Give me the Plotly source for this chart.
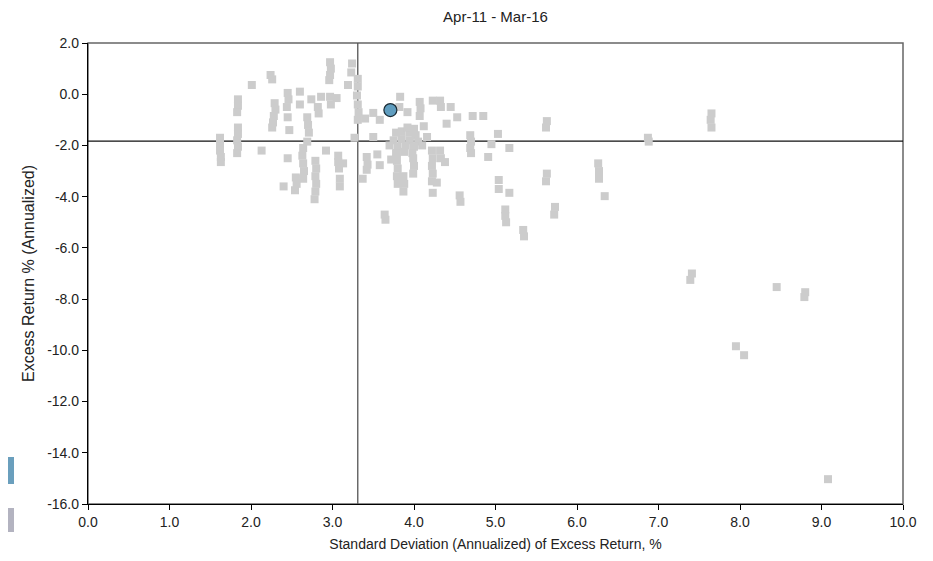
import plotly.graph_objects as go

title_text = "Apr-11 - Mar-16"
x_title = "Standard Deviation (Annualized) of Excess Return, %"
y_title = "Excess Return % (Annualized)"

x_tick_vals = [0, 1, 2, 3, 4, 5, 6, 7, 8, 9, 10]
x_tick_text = ["0.0", "1.0", "2.0", "3.0", "4.0", "5.0", "6.0", "7.0", "8.0", "9.0", "10.0"]
y_tick_vals = [2, 0, -2, -4, -6, -8, -10, -12, -14, -16]
y_tick_text = ["2.0", "0.0", "-2.0", "-4.0", "-6.0", "-8.0", "-10.0", "-12.0", "-14.0", "-16.0"]

# peer universe (std dev, excess return)
peer_sd = [
    1.62, 1.62, 1.62, 1.63, 1.63,
    1.84, 1.84, 1.83,
    1.84, 1.84, 1.83, 1.84, 1.83,
    2.01, 2.13, 2.24, 2.26,
    2.29, 2.30, 2.28, 2.27, 2.26,
    2.45, 2.46, 2.44, 2.45, 2.60, 2.45,
    2.69, 2.70, 2.71, 2.69,
    2.82, 2.83,
    2.64, 2.63, 2.64, 2.65, 2.64,
    2.79, 2.80, 2.79, 2.80, 2.79, 2.78,
    2.55, 2.56, 2.54,
    2.97, 2.98, 2.97, 2.96,
    2.97, 2.98, 3.05,
    3.07, 3.07, 3.08,
    3.09, 3.09,
    3.24, 3.23, 3.19,
    3.31, 3.31, 3.30, 3.31, 3.32, 3.31,
    3.27,
    3.42, 3.43, 3.42, 3.37,
    3.50, 3.58, 3.50, 3.58,
    3.83, 3.82,
    3.78, 3.85, 3.95, 4.02, 3.75, 3.85, 3.95, 4.05, 3.80, 3.90, 4.00, 4.10, 3.78, 3.88, 3.98, 3.92, 4.00,
    3.79, 3.79, 3.80, 3.79, 3.80,
    3.87, 3.88, 3.87,
    3.99, 4.00, 3.99,
    4.07, 4.08, 4.07,
    4.23, 4.32, 4.33,
    4.16,
    4.22, 4.23, 4.22, 4.23, 4.22,
    4.32, 4.33,
    4.28, 4.23,
    4.40, 4.45, 4.53,
    4.72, 4.85,
    4.69, 4.70, 4.69, 4.70,
    4.95, 5.03, 5.17, 4.91,
    5.04, 5.04, 5.17,
    4.56, 4.57,
    3.64, 3.65,
    5.12, 5.12, 5.13,
    5.34, 5.35,
    5.63, 5.62,
    5.63, 5.62,
    5.73, 5.72,
    6.26, 6.27, 6.27,
    6.34,
    6.87, 6.88,
    7.65, 7.64, 7.65,
    7.41, 7.39,
    8.45,
    8.80, 8.79,
    7.95, 8.05,
    9.08,
    # extra points filling the dense central cluster
    2.47, 2.60, 2.74, 2.86, 3.13, 3.40, 3.55, 3.70, 3.72, 3.92, 4.12, 4.38, 2.92, 2.40,
]
peer_ret = [
    -1.70, -1.95, -2.20, -2.45, -2.65,
    -0.20, -0.45, -0.70,
    -1.30, -1.55, -1.80, -2.05, -2.30,
    0.36, -2.20, 0.75, 0.58,
    -0.35, -0.60, -0.85, -1.10, -1.30,
    0.05, -0.20, -0.50, -0.90, 0.10, -2.50,
    -0.90, -1.20, -1.50, -1.85,
    -0.50, -0.75,
    -2.10, -2.40, -2.70, -3.00, -3.30,
    -2.60, -2.90, -3.20, -3.50, -3.80, -4.10,
    -3.25, -3.50, -3.75,
    1.25, 1.00, 0.75, 0.55,
    -0.10, -0.40, -0.15,
    -2.40, -2.65, -2.90,
    -3.30, -3.60,
    1.20, 0.85, 0.36,
    0.60, 0.30, -0.05, -0.40, -0.70, -1.00,
    -1.70,
    -2.45, -2.75, -2.95, -3.30,
    -0.73, -1.00, -1.67, -2.77,
    -0.10, -0.50,
    -1.50, -1.45, -1.50, -1.60, -1.80, -1.75, -1.80, -1.85, -2.05, -2.00, -2.05, -2.00, -2.30, -2.25, -2.30, -1.30, -1.35,
    -2.30, -2.60, -2.90, -3.20, -3.50,
    -3.20, -3.50, -3.80,
    -2.50, -2.80, -3.10,
    -0.30, -0.55, -0.85,
    -0.25, -0.25, -0.50,
    -1.67,
    -2.20, -2.50, -2.80, -3.10, -3.40,
    -2.20, -2.50,
    -3.45, -3.85,
    -1.15, -0.50, -0.90,
    -0.85, -0.85,
    -1.60, -1.85, -2.10, -2.30,
    -1.95, -1.55, -2.10, -2.45,
    -3.35, -3.70, -3.85,
    -3.95, -4.20,
    -4.70, -4.90,
    -4.50, -4.75, -5.00,
    -5.30, -5.55,
    -1.05, -1.30,
    -3.10, -3.40,
    -4.40, -4.70,
    -2.70, -3.00, -3.30,
    -3.98,
    -1.70, -1.85,
    -0.75, -1.00, -1.30,
    -7.00, -7.25,
    -7.53,
    -7.73, -7.92,
    -9.84, -10.19,
    -15.03,
    -1.40, -0.40, -0.20, -0.10, -2.70, -0.95, -2.35, -2.00, -2.55, -0.70, -1.25, -2.65, -2.20, -3.60,
]

# highlighted fund
fund_sd = [3.71]
fund_ret = [-0.62]

# crosshair (universe medians)
median_sd = 3.31
median_ret = -1.83

x_range = [0, 10]
y_range = [-16, 2]

fig = go.Figure()
fig.add_trace(go.Scatter(
    x=peer_sd, y=peer_ret, mode="markers",
    marker=dict(symbol="square", size=8, color="#cccccc", line=dict(width=0)),
    showlegend=False, hoverinfo="x+y",
))
fig.add_trace(go.Scatter(
    x=fund_sd, y=fund_ret, mode="markers",
    marker=dict(symbol="circle", size=13, color="#5f9dbf", line=dict(width=1.2, color="#1a2a33")),
    showlegend=False, hoverinfo="x+y",
))

# frame
fig.add_shape(type="rect", xref="paper", yref="paper", x0=0, x1=1, y0=0, y1=1,
              line=dict(color="#666666", width=1.5), layer="below")
# crosshair
fig.add_shape(type="line", xref="x", yref="paper", x0=median_sd, x1=median_sd, y0=0, y1=1,
              line=dict(color="#555555", width=1.3), layer="below")
fig.add_shape(type="line", xref="paper", yref="y", x0=0, x1=1, y0=median_ret, y1=median_ret,
              line=dict(color="#111111", width=1.3), layer="below")

# page body has an 8px margin, so figure is sized to land the plot area where the reference has it
fig_w, fig_h = 925, 553
m_l, m_r, m_t, m_b = 80, 30, 35, 57
plot_w = fig_w - m_l - m_r
plot_h = fig_h - m_t - m_b

def px_to_paper_x(px):
    return (px - m_l) / plot_w

def px_to_paper_y(py):
    return 1 - (py - m_t) / plot_h

# clipped legend swatches at the far left edge
fig.add_shape(type="rect", xref="paper", yref="paper",
              x0=px_to_paper_x(-2), x1=px_to_paper_x(6), y0=px_to_paper_y(476), y1=px_to_paper_y(449),
              fillcolor="#6a9fbd", line=dict(width=0))
fig.add_shape(type="rect", xref="paper", yref="paper",
              x0=px_to_paper_x(-2), x1=px_to_paper_x(6), y0=px_to_paper_y(524), y1=px_to_paper_y(500),
              fillcolor="#b3b3c0", line=dict(width=0))

font_family = "Liberation Sans, Arial, sans-serif"
fig.update_layout(
    width=fig_w, height=fig_h,
    margin=dict(l=m_l, r=m_r, t=m_t, b=m_b, autoexpand=False),
    paper_bgcolor="white", plot_bgcolor="white",
    font=dict(family=font_family, size=14, color="#222222"),
    title=dict(text=title_text, x=(m_l + plot_w / 2) / fig_w, xanchor="center", y=1 - 9 / fig_h, yanchor="middle",
               font=dict(size=15, color="#222222", family=font_family)),
    showlegend=False,
)
fig.update_xaxes(
    range=x_range, tickvals=x_tick_vals, ticktext=x_tick_text, automargin=False,
    showgrid=False, zeroline=False, showline=True, linecolor="#000000", linewidth=1.3,
    ticks="outside", ticklen=5, tickcolor="#000000",
    title=dict(text=x_title, font=dict(size=14), standoff=10),
    tickfont=dict(size=14),
)
fig.update_yaxes(
    range=y_range, tickvals=y_tick_vals, ticktext=y_tick_text, automargin=False,
    showgrid=False, zeroline=False, showline=True, linecolor="#000000", linewidth=1.3,
    ticks="outside", ticklen=5, tickcolor="#000000",
    title=dict(text=y_title, font=dict(size=16), standoff=8),
    tickfont=dict(size=14),
)

fig.write_html("out.html")
